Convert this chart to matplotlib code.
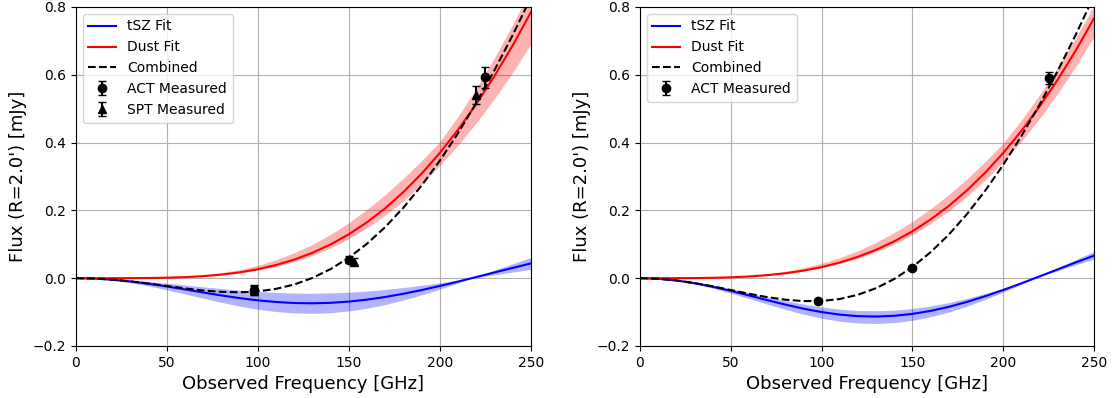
import matplotlib
matplotlib.use("Agg")
import matplotlib.pyplot as plt

# Frequencies (GHz)
freq = [0, 10, 20, 30, 40, 50, 60, 70, 80, 90, 100, 110, 120, 130, 140, 150,
        160, 170, 180, 190, 200, 210, 220, 230, 240, 250]

# ---------------- Left panel (ACT + SPT) ----------------
tsz_left = [0, -0.0011, -0.0044, -0.0096, -0.0165, -0.0245, -0.0333, -0.0423, -0.0510,
            -0.0589, -0.0654, -0.0703, -0.0733, -0.0741, -0.0727, -0.0690, -0.0632,
            -0.0554, -0.0459, -0.0350, -0.0229, -0.0100, 0.0034, 0.0170, 0.0304, 0.0435]
tsz_left_a = [0, -0.0015, -0.0062, -0.0134, -0.0231, -0.0343, -0.0466, -0.0592, -0.0714,
              -0.0825, -0.0916, -0.0984, -0.1026, -0.1037, -0.1018, -0.0966, -0.0885,
              -0.0776, -0.0643, -0.0490, -0.0321, -0.0140, 0.0048, 0.0238, 0.0426, 0.0609]
tsz_left_b = [0, -0.0007, -0.0026, -0.0058, -0.0099, -0.0147, -0.0200, -0.0254, -0.0306,
              -0.0353, -0.0392, -0.0422, -0.0440, -0.0445, -0.0436, -0.0414, -0.0379,
              -0.0332, -0.0275, -0.0210, -0.0137, -0.0060, 0.0020, 0.0102, 0.0182, 0.0261]
dust_left = [0, 0.0, 0.0, 0.0002, 0.0005, 0.0014, 0.0031, 0.0060, 0.0106, 0.0172, 0.0264,
             0.0388, 0.0548, 0.0750, 0.0998, 0.1297, 0.1652, 0.2066, 0.2544, 0.3088,
             0.3700, 0.4383, 0.5138, 0.5967, 0.6869, 0.7845]
dust_left_hi = [0, 0.0, 0.0, 0.0003, 0.0008, 0.0023, 0.0049, 0.0093, 0.0160, 0.0254, 0.0380,
                0.0545, 0.0751, 0.1001, 0.1297, 0.1641, 0.2032, 0.2469, 0.2951, 0.3474,
                0.4033, 0.4777, 0.5601, 0.6504, 0.7487, 0.8551]
dust_left_lo = [0, 0.0, 0.0, 0.0002, 0.0005, 0.0013, 0.0028, 0.0054, 0.0095, 0.0155, 0.0238,
                0.0349, 0.0493, 0.0675, 0.0898, 0.1167, 0.1487, 0.1859, 0.2290, 0.2779,
                0.3330, 0.3927, 0.4583, 0.5299, 0.6072, 0.6904]
comb_left = [0, -0.0011, -0.0044, -0.0094, -0.0160, -0.0231, -0.0302, -0.0363, -0.0404,
             -0.0417, -0.0390, -0.0315, -0.0185, 0.0009, 0.0271, 0.0607, 0.1020, 0.1512,
             0.2085, 0.2738, 0.3471, 0.4283, 0.5172, 0.6137, 0.7173, 0.8280]

act_freq_left = [98, 150, 225]
act_flux_left = [-0.035, 0.055, 0.592]
act_err_left = [0.015, 0.010, 0.030]
spt_freq_left = [98, 153, 220]
spt_flux_left = [-0.036, 0.049, 0.540]
spt_err_left = [0.013, 0.011, 0.027]

# ---------------- Right panel (ACT only) ----------------
tsz_right = [0, -0.0017, -0.0067, -0.0147, -0.0251, -0.0374, -0.0509, -0.0647, -0.0779,
             -0.0899, -0.1000, -0.1075, -0.1120, -0.1132, -0.1110, -0.1054, -0.0965,
             -0.0847, -0.0701, -0.0534, -0.0349, -0.0152, 0.0052, 0.0259, 0.0465, 0.0664]
tsz_right_a = [0, -0.0020, -0.0079, -0.0173, -0.0296, -0.0441, -0.0601, -0.0763, -0.0919,
               -0.1061, -0.1180, -0.1269, -0.1322, -0.1336, -0.1310, -0.1244, -0.1139,
               -0.0999, -0.0827, -0.0630, -0.0412, -0.0179, 0.0061, 0.0306, 0.0549, 0.0784]
tsz_right_b = [0, -0.0014, -0.0057, -0.0125, -0.0213, -0.0318, -0.0433, -0.0550, -0.0662,
               -0.0764, -0.0850, -0.0914, -0.0952, -0.0962, -0.0944, -0.0896, -0.0820,
               -0.0720, -0.0596, -0.0454, -0.0297, -0.0129, 0.0044, 0.0220, 0.0395, 0.0564]
dust_right = [0, 0.0, 0.0001, 0.0004, 0.0011, 0.0025, 0.0050, 0.0089, 0.0145, 0.0223,
              0.0327, 0.0461, 0.0630, 0.0837, 0.1086, 0.1382, 0.1729, 0.2129, 0.2587,
              0.3107, 0.3690, 0.4340, 0.5060, 0.5852, 0.6717, 0.7660]
dust_right_hi = [0, 0.0, 0.0002, 0.0006, 0.0016, 0.0037, 0.0072, 0.0126, 0.0202, 0.0305,
                 0.0438, 0.0606, 0.0811, 0.1056, 0.1342, 0.1672, 0.2047, 0.2465, 0.2928,
                 0.3436, 0.3985, 0.4661, 0.5404, 0.6215, 0.7093, 0.8043]
dust_right_lo = [0, 0.0, 0.0001, 0.0004, 0.0010, 0.0023, 0.0047, 0.0083, 0.0135, 0.0207,
                 0.0304, 0.0429, 0.0586, 0.0778, 0.1010, 0.1285, 0.1608, 0.1980, 0.2406,
                 0.2890, 0.3432, 0.4036, 0.4706, 0.5442, 0.6247, 0.7124]
comb_right = [0, -0.0017, -0.0066, -0.0143, -0.0240, -0.0349, -0.0459, -0.0558, -0.0634,
              -0.0676, -0.0673, -0.0614, -0.0490, -0.0295, -0.0024, 0.0328, 0.0764, 0.1282,
              0.1886, 0.2573, 0.3341, 0.4188, 0.5112, 0.6111, 0.7182, 0.8324]

act_freq_right = [98, 150, 225]
act_flux_right = [-0.066, 0.030, 0.590]
act_err_right = [0.005, 0.006, 0.017]

xticks = [0, 50, 100, 150, 200, 250]
yticks = [-0.2, 0.0, 0.2, 0.4, 0.6, 0.8]

fig = plt.figure(figsize=(11.14, 3.98), dpi=100)
ax1 = fig.add_axes([0.0682, 0.1307, 0.4084, 0.8518])
ax2 = fig.add_axes([0.5745, 0.1307, 0.4075, 0.8518])


def draw(ax, tsz, tsz_a, tsz_b, dust, dust_lo, dust_hi, comb, meas):
    ax.fill_between(freq, tsz_a, tsz_b, color="blue", alpha=0.3, linewidth=0)
    ax.plot(freq, tsz, color="blue", lw=1.5, label="tSZ Fit")
    ax.fill_between(freq, dust_lo, dust_hi, color="red", alpha=0.3, linewidth=0)
    ax.plot(freq, dust, color="red", lw=1.5, label="Dust Fit")
    ax.plot(freq, comb, "k--", lw=1.5, label="Combined")
    for (fx, fy, fe, mk, lab) in meas:
        ax.errorbar(fx, fy, yerr=fe, fmt=mk, color="black", markersize=6,
                    capsize=3, elinewidth=1.5, label=lab)
    ax.set_xlim(0, 250)
    ax.set_ylim(-0.2, 0.8)
    ax.set_xticks(xticks)
    ax.set_yticks(yticks)
    ax.tick_params(labelsize=10)
    ax.grid(True, color="#b0b0b0", lw=0.8)
    ax.set_axisbelow(True)
    ax.set_xlabel("Observed Frequency [GHz]", fontsize=13)
    ax.set_ylabel("Flux (R=2.0') [mJy]", fontsize=13)
    ax.legend(loc="upper left", fontsize=10)


draw(ax1, tsz_left, tsz_left_a, tsz_left_b, dust_left, dust_left_lo, dust_left_hi, comb_left,
     [(act_freq_left, act_flux_left, act_err_left, "o", "ACT Measured"),
      (spt_freq_left, spt_flux_left, spt_err_left, "^", "SPT Measured")])
draw(ax2, tsz_right, tsz_right_a, tsz_right_b, dust_right, dust_right_lo, dust_right_hi,
     comb_right,
     [(act_freq_right, act_flux_right, act_err_right, "o", "ACT Measured")])

fig.savefig("out.png", dpi=100)
